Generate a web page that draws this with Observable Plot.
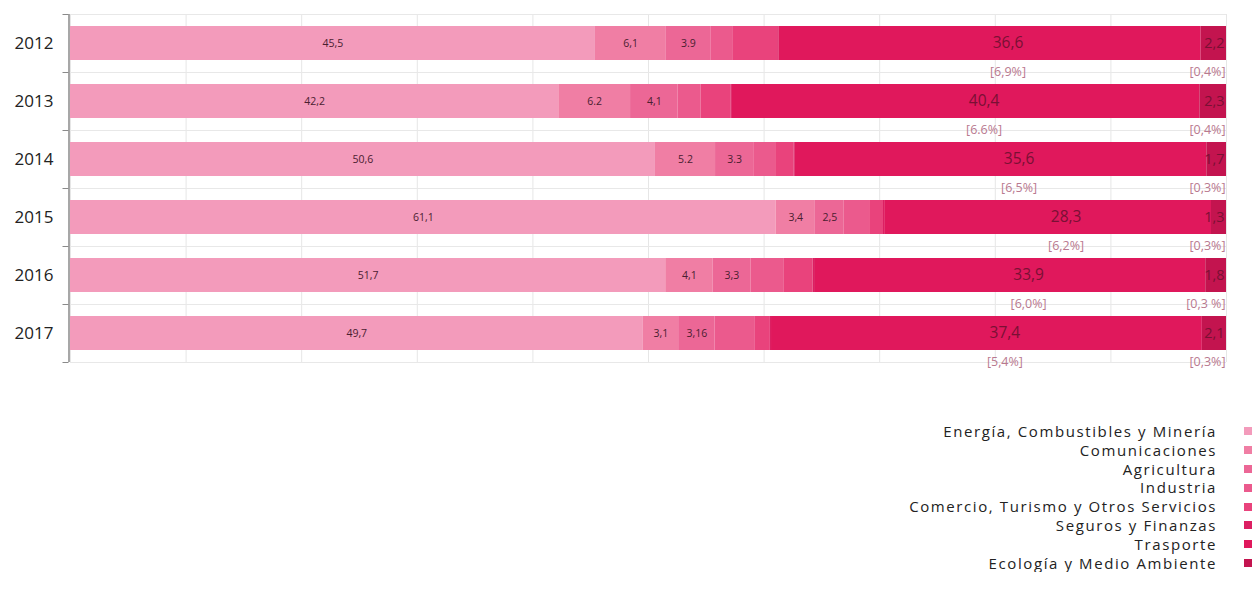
<!DOCTYPE html>
<html>
<head>
<meta charset="utf-8">
<script src="https://cdn.jsdelivr.net/npm/d3@7"></script>
<script src="https://cdn.jsdelivr.net/npm/@observablehq/plot@0.6"></script>
<style>
  body { margin: 0; background: #fff; font-family: "Open Sans", sans-serif; }
  #chart svg { display: block; }
  #legend { margin-top: 42px; width: 1253px; }
  .row { display: flex; justify-content: flex-end; align-items: center; height: 18.8px; line-height: 18.8px; font-size: 15px; color: #222; letter-spacing: 1.6px; }
  .sw { width: 8px; height: 8px; margin-left: 27px; margin-right: 1px; }
</style>
</head>
<body>
<div id="chart"></div>
<div id="legend"></div>
<script>
const years = ["2012", "2013", "2014", "2015", "2016", "2017"];
const sectors = [
  "Energía, Combustibles y Minería",
  "Comunicaciones",
  "Agricultura",
  "Industria",
  "Comercio, Turismo y Otros Servicios",
  "Seguros y Finanzas",
  "Trasporte",
  "Ecología y Medio Ambiente"
];
const sectorColors = ["#f39bbb", "#f07ea4", "#ec6796", "#eb5a8d", "#e9437c", "#dc1f62", "#e0185c", "#c3144f"];

// values per sector (one per year)
const energia        = [45.5, 42.2, 50.6, 61.1, 51.7, 49.7];
const comunicaciones = [6.1, 6.2, 5.2, 3.4, 4.1, 3.1];
const agricultura    = [3.9, 4.1, 3.3, 2.5, 3.3, 3.16];
const industria      = [1.9, 2.0, 1.9, 2.2, 2.9, 3.5];
const comercio       = [3.9, 2.6, 1.6, 1.2, 2.5, 1.3];
const seguros        = [0.1, 0.1, 0.1, 0.1, 0.2, 0.1];
const trasporte      = [36.6, 40.4, 35.6, 28.3, 33.9, 37.4];
const ecologia       = [2.2, 2.3, 1.7, 1.3, 1.8, 2.1];

// printed labels (as they appear)
const energiaLabels   = ["45,5", "42,2", "50,6", "61,1", "51,7", "49,7"];
const comLabels       = ["6,1", "6.2", "5.2", "3,4", "4,1", "3,1"];
const agriLabels      = ["3.9", "4,1", "3.3", "2,5", "3,3", "3,16"];
const traspLabels     = ["36,6", "40,4", "35,6", "28,3", "33,9", "37,4"];
const ecoLabels       = ["2,2", "2,3", "1,7", "1,3", "1,8", "2,1"];
const traspBrackets   = ["[6,9%]", "[6.6%]", "[6,5%]", "[6,2%]", "[6,0%]", "[5,4%]"];
const ecoBrackets     = ["[0,4%]", "[0,4%]", "[0,3%]", "[0,3%]", "[0,3 %]", "[0,3%]"];
const xGridTicks      = [0, 0.1, 0.2, 0.3, 0.4, 0.5, 0.6, 0.7, 0.8, 0.9, 1];

const series = [energia, comunicaciones, agricultura, industria, comercio, seguros, trasporte, ecologia];
const rows = [];
years.forEach((year, i) => {
  sectors.forEach((sector, j) => {
    rows.push({
      year, sector, value: series[j][i],
      small: j === 0 ? energiaLabels[i] : j === 1 ? comLabels[i] : j === 2 ? agriLabels[i] : null,
      big: j === 6 ? traspLabels[i] : null,
      eco: j === 7 ? ecoLabels[i] : null,
      bracketMid: j === 6 ? traspBrackets[i] : null,
      bracketEnd: j === 7 ? ecoBrackets[i] : null
    });
  });
});

const st = {x: "value", y: "year", z: "sector", offset: "normalize", order: sectors};

const chart = Plot.plot({
  width: 1253,
  height: 380,
  marginLeft: 70,
  marginRight: 27,
  marginTop: 14,
  marginBottom: 18,
  style: {fontFamily: "Open Sans, sans-serif", color: "#222", background: "#fff"},
  x: {axis: null, domain: [0, 1]},
  y: {domain: years, paddingInner: 0.41, paddingOuter: 0.205, label: null},
  color: {domain: sectors, range: sectorColors},
  marks: [
    Plot.gridX(xGridTicks, {stroke: "#e6e6e6", strokeOpacity: 1}),
    Plot.gridY({dy: -29, stroke: "#e8e8e8", strokeOpacity: 1}),
    Plot.gridY(["2017"], {dy: 29, stroke: "#e8e8e8", strokeOpacity: 1}),
    Plot.barX(rows, Plot.stackX({...st, fill: "sector"})),
    Plot.text(rows, Plot.stackX({...st, text: "small", fontSize: 10.5, fill: "#4a2030", letterSpacing: 0.3})),
    Plot.text(rows, Plot.stackX({...st, text: "big", fontSize: 15.5, fill: "#7a1034", dx: 18, letterSpacing: 0.4})),
    Plot.text(rows, Plot.stackX({...st, text: "bracketMid", fontSize: 12.5, fill: "#b9798f", dx: 18, dy: 28, letterSpacing: 0.3})),
    Plot.text(rows, Plot.stackX2({...st, text: "eco", fontSize: 14.5, fill: "#7a1034", textAnchor: "end", dx: -2})),
    Plot.text(rows, Plot.stackX2({...st, text: "bracketEnd", fontSize: 12.5, fill: "#b9798f", textAnchor: "end", dx: -1, dy: 28, letterSpacing: 0.3})),
    Plot.ruleX([0], {stroke: "#8a8a8a", strokeWidth: 1.5, dx: -1.5}),
    Plot.axisY({text: null, tickSize: 6, dy: -29, dx: -1.5, stroke: "#8a8a8a"}),
    Plot.axisY(["2017"], {text: null, tickSize: 6, dy: 29, dx: -1.5, stroke: "#8a8a8a"}),
    Plot.axisY({tickSize: 0, tickPadding: 17, fontSize: 17, fill: "#222", letterSpacing: 0.6, label: null})
  ]
});
document.getElementById("chart").appendChild(chart);

const legend = document.getElementById("legend");
sectors.forEach((s, j) => {
  const row = document.createElement("div");
  row.className = "row";
  const t = document.createElement("span");
  t.textContent = s;
  const sw = document.createElement("span");
  sw.className = "sw";
  sw.style.background = sectorColors[j];
  row.appendChild(t);
  row.appendChild(sw);
  legend.appendChild(row);
});
</script>
</body>
</html>
